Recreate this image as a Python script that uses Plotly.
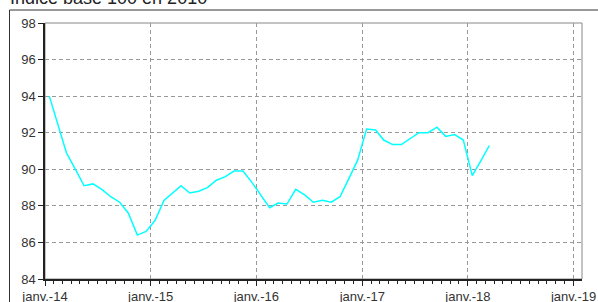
import plotly.graph_objects as go
import pandas as pd

# Monthly index values (base 100 en 2010), Jan 2014 - Mar 2018
months = pd.date_range("2014-01-01", periods=51, freq="MS") + pd.Timedelta(days=15)
values = [
    94.0, 92.4, 90.9, 90.0, 89.1, 89.2, 88.9, 88.5, 88.2, 87.6, 86.4, 86.6,
    87.2, 88.3, 88.7, 89.1, 88.7, 88.8, 89.0, 89.4, 89.6, 89.9, 89.9, 89.3,
    88.6, 87.9, 88.15, 88.1, 88.9, 88.6, 88.2, 88.3, 88.2, 88.5, 89.5, 90.5,
    92.2, 92.15, 91.6, 91.35, 91.35, 91.7, 92.0, 92.0, 92.3, 91.8, 91.9, 91.6,
    89.65, 90.5, 91.3,
]
tick_dates = ["2014-01-01", "2015-01-01", "2016-01-01", "2017-01-01", "2018-01-01", "2019-01-01"]
tick_labels = ["janv.-14", "janv.-15", "janv.-16", "janv.-17", "janv.-18", "janv.-19"]
y_ticks = [84, 86, 88, 90, 92, 94, 96, 98]
title_text = "Indice base 100 en 2010"

fig = go.Figure()
fig.add_trace(go.Scatter(x=months, y=values, mode="lines",
                         line=dict(color="#00FFFF", width=1.5), showlegend=False))

W, H = 598, 302
L, R, T, B = 45, 16, 22.5, 23.3
pw, ph = W - L - R, H - T - B

def px_x(px):
    return (px - L) / pw

def px_y(py):
    return 1 - (py - T) / ph

fig.update_layout(
    width=W, height=H,
    margin=dict(l=L, r=R, t=T, b=B, autoexpand=False),
    paper_bgcolor="white", plot_bgcolor="white",
    font=dict(family="Liberation Sans, Arial, sans-serif", size=13, color="#333333"),
    shapes=[
        # outer frame
        dict(type="rect", xref="paper", yref="paper",
             x0=px_x(9.5), x1=px_x(605), y0=px_y(310), y1=px_y(9.5),
             line=dict(color="#333333", width=1), fillcolor="rgba(0,0,0,0)", layer="above"),
        # plot box
        dict(type="rect", xref="paper", yref="paper", x0=0, x1=1, y0=0, y1=1,
             line=dict(color="#888888", width=1), fillcolor="rgba(0,0,0,0)", layer="below"),
    ],
    annotations=[
        dict(text=title_text, xref="paper", yref="paper", x=px_x(8), y=px_y(9),
             xanchor="left", yanchor="bottom", showarrow=False,
             font=dict(size=18, color="#222222"))
    ],
)

fig.update_xaxes(
    type="date", automargin=False,
    range=["2014-01-01", "2019-01-30"],
    tickvals=tick_dates, ticktext=tick_labels,
    ticks="outside", ticklen=5, tickcolor="#222222",
    showline=True, linecolor="#222222", linewidth=1.5,
    showgrid=True, gridcolor="#999999", griddash="4px,3px", gridwidth=1,
    minor=dict(dtick="M1", ticks="outside", ticklen=3, tickcolor="#222222", showgrid=False),
    tickfont=dict(size=13, color="#333333"),
    zeroline=False,
)
fig.update_yaxes(
    automargin=False,
    range=[84, 98], tickvals=y_ticks,
    ticks="outside", ticklen=5, tickcolor="#222222",
    showline=True, linecolor="#222222", linewidth=1.5,
    showgrid=True, gridcolor="#999999", griddash="4px,3px", gridwidth=1,
    tickfont=dict(size=13, color="#333333"),
    zeroline=False,
)

fig.write_html("out.html", config={"displayModeBar": False},
               post_script="document.body.style.margin='0';document.body.style.overflow='hidden';")
